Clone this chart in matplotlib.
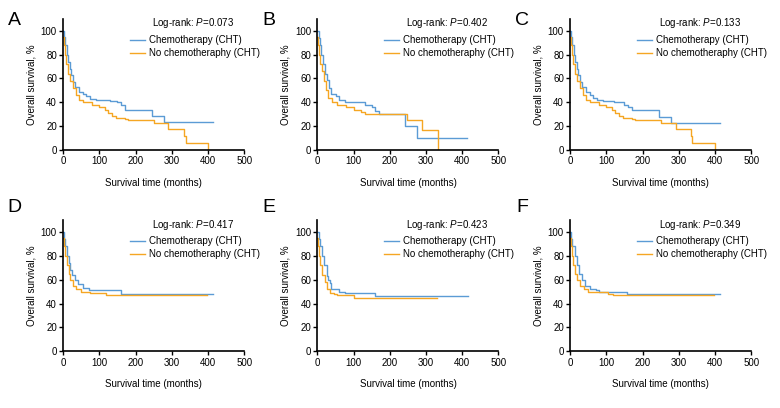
import matplotlib
matplotlib.use('Agg')
from matplotlib import pyplot as plt

plt.rcParams['font.family'] = ['Liberation Sans', 'DejaVu Sans']
plt.rcParams['mathtext.fontset'] = 'custom'
plt.rcParams['mathtext.it'] = 'Liberation Sans:italic'
plt.rcParams['mathtext.rm'] = 'Liberation Sans'

blue = '#5b9bd5'
orange = '#f5a623'

panels = ['A', 'B', 'C', 'D', 'E', 'F']
pvalues = ['0.073', '0.402', '0.133', '0.417', '0.423', '0.349']

# step curves: (time in months, survival %) for chemotherapy / no chemotherapy
chemo_t = [
    [0, 3, 6, 10, 14, 18, 22, 28, 34, 45, 55, 62, 75, 90, 130, 150, 160, 170, 245, 278, 415],
    [0, 3, 6, 10, 14, 20, 25, 32, 38, 50, 60, 75, 130, 150, 160, 170, 243, 276, 413],
    [0, 3, 6, 10, 14, 18, 22, 28, 34, 45, 55, 62, 75, 90, 120, 150, 160, 170, 245, 278, 415],
    [0, 3, 6, 10, 15, 20, 25, 32, 40, 55, 70, 160, 415],
    [0, 3, 6, 12, 18, 25, 30, 35, 38, 60, 75, 158, 415],
    [0, 3, 6, 12, 18, 25, 32, 40, 55, 70, 80, 157, 415],
]
chemo_s = [
    [100, 95, 88, 80, 74, 68, 63, 57, 53, 49, 47, 45, 43, 42, 41, 40, 38, 34, 29, 23.5, 23.5],
    [100, 94, 88, 80, 72, 64, 59, 52, 47, 45, 42, 40, 38, 36, 33, 30, 20, 10, 10],
    [100, 95, 88, 80, 74, 68, 63, 57, 53, 49, 46, 44, 42, 41, 40, 38, 36, 34, 28, 23, 23],
    [100, 94, 88, 80, 74, 68, 64, 60, 56, 53, 51, 48, 48],
    [100, 94, 88, 80, 72, 63, 60, 57, 52, 50, 49, 46, 46],
    [100, 94, 88, 80, 72, 65, 60, 55, 52, 51, 50, 48, 48],
]
nochemo_t = [
    [0, 2, 5, 9, 14, 20, 27, 35, 45, 55, 80, 100, 115, 125, 135, 145, 170, 180, 252, 290, 333, 338, 400],
    [0, 2, 5, 8, 12, 18, 24, 30, 40, 55, 80, 100, 120, 130, 248, 290, 332],
    [0, 2, 5, 9, 14, 20, 27, 35, 45, 55, 80, 100, 115, 125, 135, 145, 170, 180, 252, 292, 333, 337, 400],
    [0, 2, 6, 10, 15, 20, 27, 35, 50, 75, 90, 118, 398],
    [0, 2, 5, 8, 13, 20, 27, 35, 45, 55, 102, 330],
    [0, 2, 5, 8, 13, 20, 28, 38, 50, 105, 118, 398],
]
nochemo_s = [
    [95, 88, 80, 72, 64, 58, 52, 46, 42, 40, 38, 36, 34, 31, 29, 27, 26, 25, 23, 18, 12, 6, 0],
    [95, 88, 80, 72, 66, 58, 50, 44, 40, 38, 36, 34, 32, 30, 25, 17, 0],
    [95, 88, 80, 72, 64, 58, 52, 46, 42, 40, 38, 36, 34, 31, 29, 27, 26, 25, 23, 18, 12, 6, 0],
    [95, 88, 80, 72, 65, 60, 55, 52, 50, 49, 49, 47.5, 47.5],
    [95, 88, 80, 72, 64, 58, 52, 49, 48, 47, 45, 45],
    [95, 88, 80, 72, 65, 60, 55, 52, 50, 48, 47, 47],
]

fig = plt.figure(figsize=(7.8, 4.08), dpi=100)
lefts = [0.081, 0.407, 0.731]
bottoms = [0.632, 0.139]
letter_y = [0.949, 0.491]

for i in range(6):
    row, col = divmod(i, 3)
    ax = fig.add_axes([lefts[col], bottoms[row], 0.232, 0.322])
    ax.step(chemo_t[i], chemo_s[i], where='post', color=blue, lw=1.0, label='Chemotherapy (CHT)')
    ax.step(nochemo_t[i], nochemo_s[i], where='post', color=orange, lw=1.0, label='No chemotheraphy (CHT)')
    ax.set_xlim(0, 500)
    ax.set_ylim(0, 110)
    ax.set_xticks(range(0, 501, 100))
    ax.set_yticks(range(0, 101, 20))
    ax.spines['top'].set_visible(False)
    ax.spines['right'].set_visible(False)
    ax.spines['left'].set_linewidth(1.2)
    ax.spines['bottom'].set_linewidth(1.2)
    ax.tick_params(labelsize=7, length=3, width=1, pad=1.5)
    ax.set_xlabel('Survival time (months)', fontsize=7, labelpad=8)
    ax.set_ylabel('Overall survival, %', fontsize=7, labelpad=3)
    ax.text(0.49, 0.965, 'Log-rank: $P$=' + pvalues[i], transform=ax.transAxes,
            fontsize=7, va='center', ha='left')
    ax.legend(loc='upper left', bbox_to_anchor=(0.37, 0.875), frameon=False, fontsize=7,
              handlelength=1.5, handletextpad=0.45, labelspacing=0.3, borderaxespad=0,
              borderpad=0)
    fig.text(lefts[col] - 0.062, letter_y[row], panels[i], fontsize=14, va='center', ha='center')

plt.savefig('out.png')
